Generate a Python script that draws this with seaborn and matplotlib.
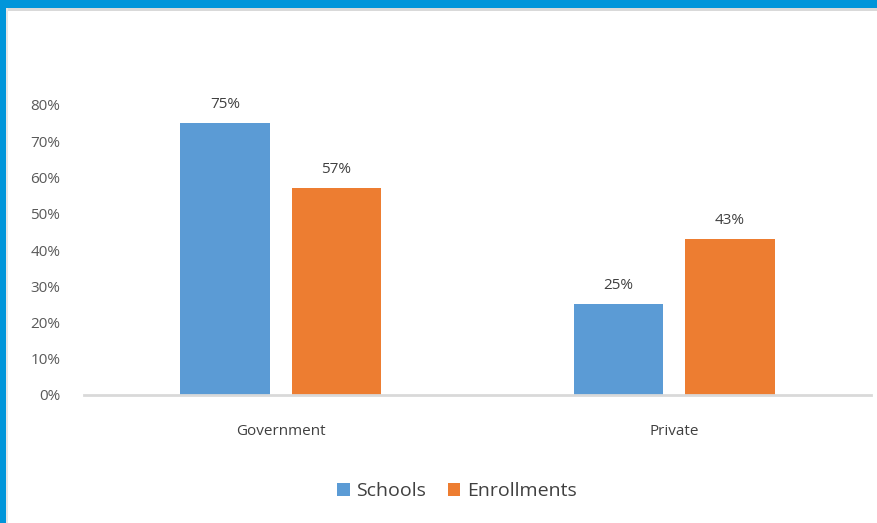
import matplotlib
matplotlib.use("Agg")
import matplotlib.pyplot as plt
import seaborn as sns
import pandas as pd
from matplotlib.patches import Rectangle
from matplotlib.ticker import FuncFormatter

categories = ["Government", "Private"]
series = ["Schools", "Enrollments"]
schools = [0.75, 0.25]
enrollments = [0.57, 0.43]
yticks = [0, 0.1, 0.2, 0.3, 0.4, 0.5, 0.6, 0.7, 0.8]

df = pd.DataFrame({
    "Sector": categories * 2,
    "Series": [series[0]] * 2 + [series[1]] * 2,
    "Value": schools + enrollments,
})

sns.set_theme(style="white")
plt.rcParams["font.family"] = ["Open Sans", "DejaVu Sans"]

W, H = 877, 523
fig = plt.figure(figsize=(W / 100, H / 100), dpi=100)
fig.patch.set_facecolor("white")
ax_left, ax_right = 84, 871
ax = fig.add_axes([ax_left / W, 1 - 395 / H, (ax_right - ax_left) / W, 290 / H])

palette = {"Schools": "#5B9BD5", "Enrollments": "#ED7D31"}
sns.barplot(data=df, x="Sector", y="Value", hue="Series", palette=palette,
            width=0.566, gap=0.198, ax=ax, saturation=1, edgecolor="none")

ax.set_xlim(-0.5, 1.5)
ax.set_ylim(0, 0.8)
ax.set_yticks(yticks)
ax.yaxis.set_major_formatter(FuncFormatter(lambda v, p: f"{v*100:.0f}%"))
ax.set_xlabel("")
ax.set_ylabel("")
for s in ["top", "right", "left"]:
    ax.spines[s].set_visible(False)
ax.spines["bottom"].set_color("#d9d9d9")
ax.spines["bottom"].set_linewidth(2)
ax.tick_params(axis="y", length=0, pad=17, labelsize=11, labelcolor="#595959")
ax.tick_params(axis="x", length=0, pad=21, labelsize=11, labelcolor="#404040")
for lab in ax.get_yticklabels():
    lab.set_horizontalalignment("right")

for cont in ax.containers:
    labels = [f"{v*100:.0f}%" for v in cont.datavalues]
    ax.bar_label(cont, labels=labels, padding=8, fontsize=11, color="#404040")

handles, labels = ax.get_legend_handles_labels()
if ax.get_legend() is not None:
    ax.get_legend().remove()
fig.legend(handles, labels, loc="center", bbox_to_anchor=(457 / W, 1 - 491 / H),
           ncol=2, frameon=False, fontsize=14, handlelength=0.65, handleheight=0.65,
           handletextpad=0.35, columnspacing=1.1, labelcolor="#404040")

# frame decorations
fig.patches.append(Rectangle((0, 1 - 8 / H), 1, 8 / H, transform=fig.transFigure,
                             facecolor="#0095DA", edgecolor="none", zorder=10))
fig.patches.append(Rectangle((6 / W, 1 - 11 / H), 1, 3 / H, transform=fig.transFigure,
                             facecolor="#d9d9d9", edgecolor="none", zorder=9))
fig.patches.append(Rectangle((0, 0), 6 / W, 1, transform=fig.transFigure,
                             facecolor="#0095DA", edgecolor="none", zorder=10))
fig.patches.append(Rectangle((6 / W, 0), 2 / W, 1 - 8 / H, transform=fig.transFigure,
                             facecolor="#e6e6e6", edgecolor="none", zorder=9))

fig.savefig("out.png", dpi=100)
